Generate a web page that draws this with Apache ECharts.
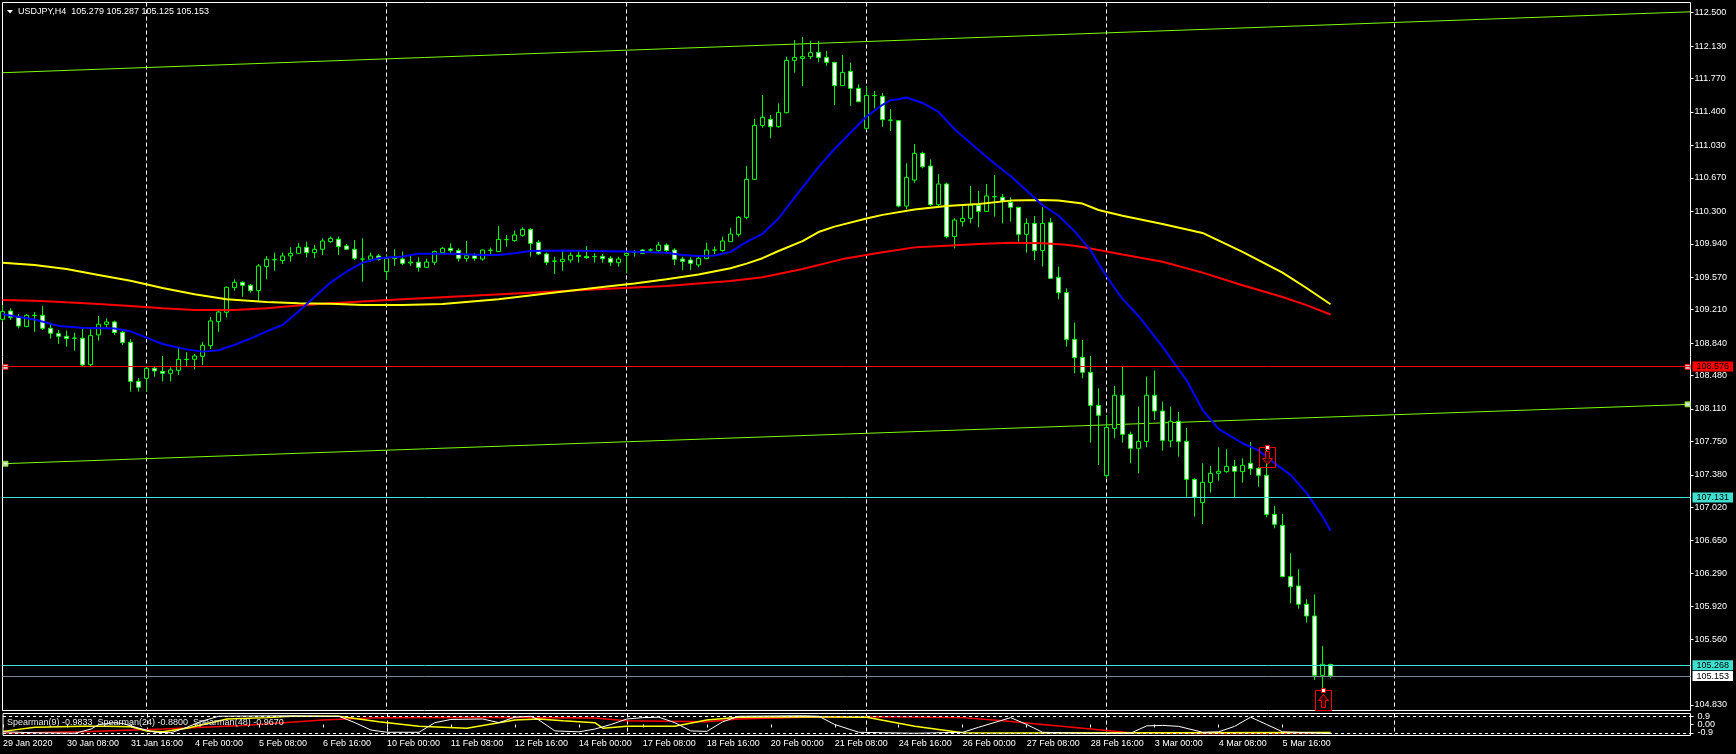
<!DOCTYPE html>
<html><head><meta charset="utf-8">
<script src="https://cdn.jsdelivr.net/npm/echarts@6/dist/echarts.min.js"></script>
<style>html,body{margin:0;padding:0;background:#000;}#c{width:1736px;height:754px;}</style>
</head><body><div id="c"></div>
<script>
const symbolName = 'USDJPY,H4';
const slotCount = 212;
const candleOpen = [
109.103,109.195,109.125,109.022,109.147,109.147,109.003,108.944,108.915,108.893,
108.893,108.601,108.930,109.048,109.074,108.959,108.848,108.416,108.450,108.560,
108.527,108.505,108.538,108.660,108.660,108.693,108.811,109.077,109.181,109.454,
109.513,109.480,109.421,109.687,109.764,109.753,109.805,109.834,109.901,109.842,
109.879,109.964,109.990,109.916,109.879,109.772,109.768,109.805,109.631,109.779,
109.771,109.727,109.735,109.679,109.735,109.842,109.890,109.864,109.779,109.808,
109.771,109.867,109.853,109.986,109.975,110.034,110.100,109.956,109.827,109.749,
109.742,109.760,109.812,109.800,109.797,109.801,109.779,109.731,109.812,109.849,
109.871,109.871,109.864,109.926,109.871,109.771,109.760,109.705,109.775,109.871,
109.864,109.963,110.045,110.233,110.654,111.252,111.319,111.237,111.392,111.972,
111.994,112.013,112.061,112.005,111.950,111.692,111.850,111.662,111.219,111.581,
111.573,111.311,111.304,110.358,110.646,110.942,110.801,110.373,110.602,110.019,
110.185,110.222,110.366,110.299,110.462,110.455,110.399,110.344,110.045,110.166,
109.864,110.174,109.568,109.398,108.881,108.682,108.516,108.150,107.371,107.895,
108.261,107.829,107.674,107.751,108.261,108.087,107.755,107.973,107.751,107.330,
107.072,107.297,107.397,107.415,107.474,107.415,107.508,107.452,107.375,106.942,
106.821,106.252,106.149,105.946,105.816,105.159,105.279];
const candleClose = [
109.188,109.125,109.029,109.147,109.145,109.003,108.948,108.915,108.889,108.895,
108.597,108.922,109.048,109.074,108.955,108.845,108.416,108.350,108.560,108.531,
108.505,108.542,108.660,108.658,108.697,108.815,109.085,109.184,109.458,109.513,
109.480,109.421,109.694,109.768,109.762,109.805,109.834,109.901,109.842,109.879,
109.971,110.000,109.908,109.879,109.779,109.770,109.805,109.768,109.779,109.777,
109.723,109.738,109.679,109.738,109.853,109.890,109.864,109.779,109.808,109.779,
109.871,109.869,109.989,109.986,110.037,110.100,109.945,109.827,109.735,109.747,
109.768,109.812,109.800,109.786,109.799,109.775,109.735,109.771,109.834,109.850,
109.834,109.872,109.926,109.864,109.768,109.746,109.723,109.779,109.871,109.870,
109.971,110.048,110.233,110.654,111.252,111.341,111.237,111.396,111.972,112.005,
112.013,112.057,112.005,111.950,111.692,111.839,111.662,111.514,111.584,111.582,
111.315,111.309,110.358,110.676,110.942,110.794,110.373,110.602,110.019,110.203,
110.222,110.370,110.299,110.469,110.460,110.410,110.344,110.045,110.166,109.864,
110.166,109.557,109.398,108.881,108.678,108.516,108.150,108.039,107.906,108.261,
107.829,107.674,107.751,108.261,108.087,107.762,107.973,107.748,107.330,107.131,
107.297,107.397,107.419,107.474,107.419,107.485,107.448,107.375,106.942,106.832,
106.252,106.141,105.946,105.816,105.159,105.281,105.153];
const candleHigh = [
109.262,109.225,109.162,109.162,109.184,109.251,109.059,108.985,108.978,108.955,
109.003,108.992,109.140,109.114,109.088,108.985,108.882,108.453,108.571,108.579,
108.697,108.571,108.793,108.738,108.719,108.852,109.129,109.207,109.465,109.546,
109.524,109.495,109.716,109.805,109.842,109.842,109.901,109.950,109.964,109.927,
110.000,110.020,110.020,109.938,109.982,110.000,109.842,109.827,109.816,109.879,
109.853,109.805,109.790,109.775,109.864,109.901,109.945,109.890,109.971,109.834,
109.879,109.897,110.137,110.037,110.085,110.122,110.111,109.982,109.842,109.797,
109.871,109.845,109.871,109.915,109.834,109.827,109.805,109.797,109.853,109.871,
109.882,109.890,109.960,109.945,109.890,109.797,109.790,109.797,109.952,109.908,
110.019,110.118,110.248,110.802,111.323,111.588,111.367,111.496,112.013,112.197,
112.231,112.186,112.186,112.076,111.955,112.031,111.946,111.706,111.688,111.632,
111.610,111.433,111.310,110.831,111.045,110.960,110.875,110.713,110.617,110.222,
110.370,110.580,110.525,110.602,110.702,110.491,110.455,110.350,110.222,110.248,
110.344,110.222,109.687,109.446,109.066,108.874,108.697,108.338,108.043,108.364,
108.578,107.858,108.135,108.468,108.534,108.191,108.135,108.076,107.899,107.341,
107.508,107.478,107.685,107.663,107.545,107.563,107.744,107.463,107.655,107.035,
106.946,106.510,106.333,106.001,106.056,105.484,105.287];
const candleLow = [
109.077,109.096,109.003,109.015,108.966,108.985,108.889,108.830,108.800,108.756,
108.579,108.579,108.867,109.015,108.930,108.819,108.302,108.302,108.302,108.468,
108.413,108.413,108.486,108.579,108.549,108.597,108.774,108.966,109.125,109.421,
109.354,109.399,109.299,109.546,109.642,109.716,109.742,109.834,109.790,109.779,
109.816,109.950,109.816,109.871,109.760,109.520,109.742,109.753,109.539,109.694,
109.705,109.694,109.631,109.675,109.705,109.834,109.834,109.742,109.742,109.753,
109.753,109.816,109.853,109.908,109.963,110.019,109.797,109.816,109.705,109.605,
109.642,109.731,109.731,109.775,109.731,109.731,109.694,109.686,109.613,109.797,
109.827,109.842,109.842,109.842,109.705,109.650,109.650,109.679,109.768,109.827,
109.853,109.963,110.019,110.211,110.650,111.226,111.108,111.226,111.385,111.836,
111.688,111.987,111.950,111.913,111.478,111.688,111.466,111.510,111.200,111.440,
111.237,111.189,110.344,110.322,110.617,110.776,110.358,110.344,110.000,109.889,
110.130,110.166,110.122,110.292,110.240,110.166,110.185,109.963,109.842,109.760,
109.687,109.550,109.324,108.800,108.505,108.449,107.736,107.489,107.341,107.785,
107.736,107.508,107.397,107.685,107.988,107.648,107.685,107.581,107.138,106.917,
106.835,107.183,107.315,107.404,107.131,107.293,107.378,107.249,106.909,106.788,
106.245,105.957,105.898,105.742,105.107,104.978,105.125];

const maBlue = [[0,109.16],[4,109.10],[7,109.03],[10,109.01],[14,109.00],[16,108.97],[18,108.90],[20,108.83],[23,108.77],[25,108.745],[27,108.76],[29,108.82],[31,108.89],[33,108.97],[35,109.04],[37,109.19],[39,109.35],[41,109.51],[43,109.63],[45,109.73],[47,109.78],[50,109.80],[52,109.83],[56,109.83],[60,109.815],[62,109.815],[64,109.835],[66,109.86],[70,109.865],[74,109.86],[78,109.855],[83,109.84],[85,109.815],[87,109.805],[89,109.81],[91,109.85],[93,109.96],[95,110.05],[97,110.22],[99,110.45],[102,110.79],[104,110.99],[106,111.17],[108,111.35],[110,111.48],[111,111.53],[112,111.54],[113,111.56],[115,111.50],[117,111.40],[119,111.21],[122,110.98],[124,110.83],[126,110.69],[128,110.53],[130,110.37],[132,110.25],[134,110.08],[136,109.87],[137,109.72],[139,109.45],[140,109.33],[142,109.14],[145,108.80],[147,108.55],[148,108.43],[150,108.10],[152,107.89],[155,107.73],[157,107.65],[159,107.51],[161,107.38],[163,107.18],[165,106.92],[166,106.76]];
const maYellow = [[0,109.73],[4,109.705],[8,109.66],[12,109.595],[16,109.53],[20,109.45],[24,109.38],[28,109.325],[33,109.295],[37,109.28],[41,109.275],[45,109.262],[50,109.262],[55,109.273],[62,109.324],[68,109.39],[75,109.46],[79,109.50],[83,109.546],[87,109.60],[91,109.668],[93,109.72],[95,109.78],[97,109.86],[100,109.97],[102,110.07],[104,110.13],[108,110.22],[110,110.26],[114,110.32],[118,110.358],[122,110.38],[126,110.418],[130,110.425],[132,110.42],[135,110.385],[137,110.314],[140,110.25],[145,110.16],[150,110.06],[155,109.85],[160,109.62],[163,109.45],[166,109.27]];
const maRed = [[0,109.317],[4,109.31],[8,109.291],[12,109.273],[16,109.251],[20,109.225],[24,109.207],[29,109.207],[33,109.225],[37,109.255],[41,109.28],[45,109.30],[50,109.325],[58,109.361],[66,109.398],[75,109.439],[83,109.472],[91,109.528],[95,109.57],[100,109.66],[105,109.77],[110,109.845],[114,109.90],[118,109.919],[122,109.938],[126,109.952],[130,109.945],[133,109.93],[135,109.905],[137,109.87],[140,109.82],[145,109.74],[150,109.62],[155,109.48],[160,109.35],[163,109.26],[166,109.156]];

const trendUpper = [[0,111.835],[211,112.51]];
const trendLower = [[0,107.503],[211,108.161]];
const hLevels = [108.576, 107.131, 105.268, 105.153];
const markerK = [158, 165];
const markerPrice = [107.581, 104.888];
const markerDir = [-1, 1];

const yTickValues = [112.500,112.130,111.770,111.400,111.030,110.670,110.300,109.940,109.570,109.210,108.840,108.480,108.110,107.750,107.380,107.020,106.650,106.290,105.920,105.560,104.830];
const subTickValues = [0.9, 0, -0.9];
const subTickText = ['0.9', '0.00', '-0.9'];
const xLabelIdx = [0,8,16,24,32,40,48,56,64,72,80,88,96,104,112,120,128,136,144,152,160];
const xLabelText = ['29 Jan 2020','30 Jan 08:00','31 Jan 16:00','4 Feb 00:00','5 Feb 08:00','6 Feb 16:00','10 Feb 00:00','11 Feb 08:00','12 Feb 16:00','14 Feb 00:00','17 Feb 08:00','18 Feb 16:00','20 Feb 00:00','21 Feb 08:00','24 Feb 16:00','26 Feb 00:00','27 Feb 08:00','28 Feb 16:00','3 Mar 00:00','4 Mar 08:00','5 Mar 16:00'];
const weekGridIdx = [18,48,78,108,138,174];

const spearman9 = [[0,-0.8],[4,-0.9],[9,-0.95],[11,-0.5],[12,0.0],[14,0.2],[15,0.1],[17,-0.4],[19,-0.85],[21,-0.9],[23,-0.3],[25,0.4],[27,0.9],[35,0.95],[42,0.9],[44,0.2],[46,-0.6],[48,-0.85],[52,-0.85],[54,0.2],[56,0.55],[60,0.6],[62,0.2],[64,0.8],[66,0.9],[67,0.5],[69,-0.7],[72,-0.8],[74,-0.5],[76,0.0],[78,0.6],[80,0.75],[82,0.8],[84,0.2],[86,-0.7],[88,-0.75],[90,0.3],[92,0.9],[100,0.95],[102,0.9],[104,0.0],[107,-0.85],[110,-0.9],[114,-0.95],[120,-0.85],[122,-0.3],[126,0.75],[128,0.0],[130,-0.85],[135,-0.95],[141,-0.95],[143,-0.15],[145,-0.1],[147,-0.2],[150,-0.85],[152,-0.8],[154,-0.2],[156,0.8],[158,0.0],[160,-0.8],[166,-0.9833]];
const spearman24 = [[0,-0.75],[4,-0.3],[10,-0.2],[13,-0.2],[16,-0.25],[18,-0.7],[20,-0.8],[23,-0.4],[26,0.2],[28,0.6],[33,0.75],[36,0.9],[42,0.9],[47,0.3],[52,-0.2],[58,-0.4],[64,0.5],[67,0.6],[70,0.4],[74,0.2],[75,-0.4],[78,-0.2],[84,-0.2],[88,0.5],[92,0.8],[100,0.85],[108,0.8],[114,-0.2],[120,-0.9],[125,-0.92],[166,-0.88]];
const spearman48 = [[0,-0.95],[10,-0.8],[20,-0.5],[30,-0.1],[40,0.5],[47,0.75],[60,0.8],[74,0.7],[78,0.4],[88,0.3],[92,0.6],[100,0.8],[110,0.85],[120,0.75],[125,0.4],[130,0.0],[135,-0.4],[141,-0.9],[150,-0.97],[166,-0.967]];

const FONT = '"Liberation Sans", Arial, sans-serif';
const categories = Array.from({length: slotCount}, (_, i) => String(i));
const labelMap = {}; xLabelIdx.forEach((k, i) => labelMap[k] = xLabelText[i]);
const candleData = candleOpen.map((o, i) => [o, candleClose[i], candleLow[i], candleHigh[i]]);
const n = candleOpen.length;
const f3 = v => v.toFixed(3);

const levelStyle = [
  {line:'#ff0000', bg:'#ff0000', txt:'#000'},
  {line:'#40e0d0', bg:'#40e0d0', txt:'#000'},
  {line:'#40e0d0', bg:'#40e0d0', txt:'#000'},
  {line:'#778899', bg:'#ffffff', txt:'#000'}
];

const splitFn = (idx) => weekGridIdx.indexOf(idx) >= 0;
const labelFn = (idx) => labelMap[idx] !== undefined;

const chart = echarts.init(document.getElementById('c'), null, {renderer:'canvas'});
chart.setOption({
  animation: false,
  backgroundColor: '#000',
  grid: [
    {left: 2.5, right: 45.5, top: 2.5, height: 708, show: true, borderColor: '#fff', borderWidth: 1, backgroundColor: '#000'},
    {left: 2.5, right: 45.5, top: 713.5, height: 22, show: true, borderColor: '#fff', borderWidth: 1, backgroundColor: '#000'}
  ],
  xAxis: [
    {type:'category', gridIndex:0, data: categories, boundaryGap:false,
     axisLine:{show:false}, axisTick:{show:false}, axisLabel:{show:false},
     splitLine:{show:true, interval: splitFn, lineStyle:{color:'#fff', type:[4,3], width:1}}},
    {type:'category', gridIndex:1, data: categories, boundaryGap:false,
     axisLine:{show:false},
     axisTick:{show:true, interval: labelFn, length:3, lineStyle:{color:'#fff'}},
     axisLabel:{show:true, interval: labelFn, formatter:(v, i) => labelMap[i] || '', align:'left', margin:4,
       color:'#fff', fontSize:9, fontFamily:FONT},
     splitLine:{show:true, interval: splitFn, lineStyle:{color:'#fff', type:[4,3], width:1}}}
  ],
  yAxis: [
    {type:'value', gridIndex:0, position:'right', min:104.769, max:112.613, scale:true,
     axisLine:{show:false}, splitLine:{show:false},
     axisTick:{show:true, length:3, customValues: yTickValues, lineStyle:{color:'#fff'}},
     axisLabel:{show:true, customValues: yTickValues, formatter: v => f3(v), margin:4, color:'#fff', fontSize:9, fontFamily:FONT}},
    {type:'value', gridIndex:1, position:'right', min:-1.2, max:1.2,
     axisLine:{show:false}, splitLine:{show:false},
     axisTick:{show:true, length:3, customValues: subTickValues, lineStyle:{color:'#fff'}},
     axisLabel:{show:false}}
  ],
  series: [
    {type:'line', name:'trendUpper', xAxisIndex:0, yAxisIndex:0, data: trendUpper, showSymbol:false, silent:true,
     lineStyle:{color:'#7cfc00', width:1}, z:1},
    {type:'line', name:'trendLower', xAxisIndex:0, yAxisIndex:0, data: trendLower, showSymbol:false, silent:true,
     lineStyle:{color:'#7cfc00', width:1}, z:1},
    {type:'candlestick', xAxisIndex:0, yAxisIndex:0, data: candleData, barWidth: 4, z:2,
     itemStyle:{color:'#000', color0:'#fff', borderColor:'#00ff00', borderColor0:'#00ff00', borderWidth:1},
     markLine:{symbol:['none','none'], silent:true, animation:false,
       data: hLevels.map((v, i) => ({yAxis: v,
         lineStyle:{color: levelStyle[i].line, width:1, type:'solid'},
         label:{show:true, position:'end', distance:2, formatter: f3(v), color: levelStyle[i].txt,
           backgroundColor: levelStyle[i].bg, padding:[1,4,0,4], fontSize:9, lineHeight:9, fontFamily:FONT}}))}},
    {type:'line', name:'maRed', xAxisIndex:0, yAxisIndex:0, data: maRed, showSymbol:false, silent:true, lineStyle:{color:'#ff0000', width:2}, z:3},
    {type:'line', name:'maYellow', xAxisIndex:0, yAxisIndex:0, data: maYellow, showSymbol:false, silent:true, lineStyle:{color:'#ffff00', width:2}, z:3},
    {type:'line', name:'maBlue', xAxisIndex:0, yAxisIndex:0, data: maBlue, showSymbol:false, silent:true, lineStyle:{color:'#0000ff', width:2}, z:3},
    {type:'scatter', name:'handles', xAxisIndex:0, yAxisIndex:0, silent:true, z:4, symbol:'rect', symbolSize:5,
     data:[
       {value:[0, hLevels[0]], symbolOffset:[3,0], itemStyle:{color:'#fff', borderColor:'#ff0000', borderWidth:1}},
       {value:[slotCount-1, hLevels[0]], symbolOffset:[-3,0], itemStyle:{color:'#fff', borderColor:'#ff0000', borderWidth:1}},
       {value:trendLower[0], symbolOffset:[3,0], itemStyle:{color:'#fff', borderColor:'#7cfc00', borderWidth:1}},
       {value:trendLower[1], symbolOffset:[-3,0], itemStyle:{color:'#fff', borderColor:'#7cfc00', borderWidth:1}}
     ]},
    {type:'custom', name:'arrows', xAxisIndex:0, yAxisIndex:0, silent:true, z:5,
     data: markerK.map((k, i) => [k, markerPrice[i], markerDir[i]]),
     renderItem: function(params, api){
       const p = api.coord([api.value(0), api.value(1)]);
       const up = api.value(2) > 0;
       const x = Math.round(p[0]) + 0.5, y = Math.round(p[1]) + 0.5;
       const top = y - 10, bot = y + 10;
       const arrow = up
         ? [[x, top+4],[x+5, top+10],[x+2, top+10],[x+2, bot-3],[x-2, bot-3],[x-2, top+10],[x-5, top+10]]
         : [[x-2, top+4],[x+2, top+4],[x+2, bot-9],[x+5, bot-9],[x, bot-3],[x-5, bot-9],[x-2, bot-9]];
       return {type:'group', children:[
         {type:'rect', shape:{x:x-8, y:top, width:16, height:20}, style:{fill:null, stroke:'#ff0000', lineWidth:1}},
         {type:'polygon', shape:{points:arrow}, style:{fill:'#3a0000', stroke:'#ff0000', lineWidth:1}},
         {type:'rect', shape:{x:x-2, y:top-2, width:4, height:4}, style:{fill:'#fff', stroke:'#ff0000', lineWidth:1}}
       ]};
     }},
    {type:'line', name:'Spearman(48)', xAxisIndex:1, yAxisIndex:1, data: spearman48, showSymbol:false, silent:true, lineStyle:{color:'#ff0000', width:1.5}, z:3,
     markLine:{symbol:['none','none'], silent:true,
       data: subTickValues.map((v, i) => ({yAxis: v,
         lineStyle: v === 0 ? {color:'rgba(0,0,0,0)', width:1} : {color:'#fff', type:[3,3], width:1},
         label:{show:true, position:'end', distance:7, formatter: subTickText[i], color:'#fff', fontSize:9, lineHeight:9, fontFamily:FONT}}))}},
    {type:'line', name:'Spearman(24)', xAxisIndex:1, yAxisIndex:1, data: spearman24, showSymbol:false, silent:true, lineStyle:{color:'#ffff00', width:1.5}, z:4},
    {type:'line', name:'Spearman(9)', xAxisIndex:1, yAxisIndex:1, data: spearman9, showSymbol:false, silent:true, lineStyle:{color:'#ffffff', width:1}, z:5}
  ],
  graphic: [
    {type:'polygon', shape:{points:[[7,10],[13,10],[10,13.5]]}, style:{fill:'#fff'}, silent:true},
    {type:'text', left:18, top:7.5, silent:true,
     style:{text: symbolName + '  ' + [candleOpen[n-1], candleHigh[n-1], candleLow[n-1], candleClose[n-1]].map(f3).join(' '),
       fill:'#fff', font:'9px ' + FONT}},
    {type:'text', left:7, top:718, silent:true, z:10,
     style:{text: 'Spearman(9) ' + spearman9[spearman9.length-1][1].toFixed(4) + '  Spearman(24) ' + spearman24[spearman24.length-1][1].toFixed(4) + '  Spearman(48) ' + spearman48[spearman48.length-1][1].toFixed(4),
       fill:'#e8e8e8', font:'9px ' + FONT}}
  ]
});
</script>
</body></html>
